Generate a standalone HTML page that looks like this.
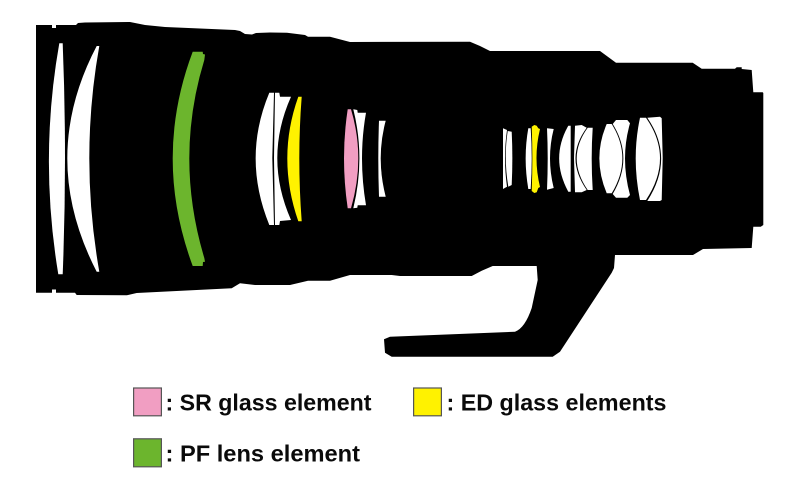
<!DOCTYPE html>
<html><head><meta charset="utf-8"><style>
html,body{margin:0;padding:0;background:#fff;width:800px;height:491px;overflow:hidden}
svg{display:block}
text{font-family:"Liberation Sans",sans-serif;font-weight:bold;font-size:23px;fill:#0a0a0a}
</style></head><body>
<svg width="800" height="491" viewBox="0 0 800 491" xmlns="http://www.w3.org/2000/svg">
<path fill="#000" d="M36,25 L52,25 L52,28 L56,28 L56,25 L76,25 L78,23 L85,22.5 L130,22 L145,25 L165,27 L235,30 L240,31 L245,34 L252,34.5 L256,33 L270,32.5 L287,32.7 L305,35 L308,36.7 L330,36.7 L350,42 L470,41.7 L480,46 L490,51 L600,51 L616,62.7 L692.7,62.7 L701.7,68.7 L735,68.7 L736.7,67.3 L741.7,67.3 L741.7,69 L751.7,70 L753.3,92.3 L762.7,92.3 L763.3,93 L763.3,225 L760.7,226.7 L753.3,226.7 L751.7,248 L703,249 L693,255 L615,255 L614,268 L611.7,272.7 L560,351.7 L552.7,356.7 L391.7,356.7 L385,352.7 L384,339.3 L390,336.7 L515,331.7 Q525,328 531.7,308 L537.7,280 L536.7,266 L492.7,266 L481.7,270.7 L471.7,276 L400,276 L391.7,275 L350,275 L330,280.7 L308,280.7 L290,285 L255,285 L240,283.3 L231.7,288.3 L136.7,293 L126.7,295.3 L76.7,295 L75,292.7 L56,292.7 L56,289.5 L52,289.5 L52,292.7 L36,292.7 Z"/>
<g fill="#fff">
<path d="M59.3,43.3 L62.7,43.3 Q67.3,158 62.7,274.3 L58.3,274.3 Q39,158 59.3,43.3Z"/>
<path d="M96.7,46 L99.3,46 Q79.3,158 99.3,271.7 L96.7,271.7 Q37.9,158 96.7,46Z"/>
<path d="M269.3,92.7 L274,92.7 L272.3,158 L274,225 L269.3,225 Q242,158 269.3,92.7Z"/>
<path d="M275,92.7 L279.3,92.7 L280,96.7 L291,96.7 Q263.6,158 291,220 L280,221 L279.3,225 L275,225 L274,158Z"/>
<path d="M353.3,109.3 L357.3,110 L357.7,112.7 L366,112.7 Q358,158 366,205.3 L357.7,205.3 L357.3,207.7 L353.3,208.3 Q365.5,158 353.3,109.3Z"/>
<path d="M379,120.7 L385.7,120.7 Q375.7,158 385.7,196.7 L379,196.7 Q377.6,158 379,120.7Z"/>
<path d="M503,128.3 L507,130 Q503,158 507,186.7 L503,189Z"/>
<path d="M507.7,131 L511.7,131.7 Q513,158 511.7,185 L508.3,186.7 Q503.5,158 507.7,131Z"/>
<path d="M528.3,128.3 L530.7,128.3 Q532.7,158 530.7,189 L528.3,189 Q523,158 528.3,128.3Z"/>
<path d="M547,128.3 L553.7,129 Q546.3,158 553.7,188 L547,189.7 Q548.4,158 547,128.3Z"/>
<path d="M568.3,125.7 L570.7,125.7 L570.7,191.7 L568.3,191.7 Q550,158 568.3,125.7Z"/>
<path d="M575,125.7 L581.7,125 L586.7,127.7 Q564.3,158 586.7,190 L581.7,192.3 L575,192.3 L574,158Z"/>
<path d="M587.7,127.7 L592.7,127.7 Q590.7,158 592.7,190 L587.7,190 Q565.7,158 587.7,127.7Z"/>
<path d="M606.7,124 L611.7,124 Q633,158 611.7,193.3 L606.7,193.3 Q592,158 606.7,124Z"/>
<path d="M612.7,124 L616,120 L627.3,120 L630,123.3 Q620,158 630,195 L627.3,197.7 L616,197.7 L612.7,194 Q634,158 612.7,124Z"/>
<path d="M640,117.7 L646,117.7 Q674,158 646,200 L640,200 Q631.4,158 640,117.7Z"/>
<path d="M647.3,117.7 L660,116.7 L661.7,118.3 L662.7,158 L661.7,200 L660,201 L647.3,201 Q675,158 647.3,117.7Z"/>
</g>
<path fill="#6cb52d" d="M192.7,51.7 L202.7,51.7 L203,54 L205,54.5 L204.3,60 Q174.3,158 204.3,258 L205,261.7 L203,262 L202.7,266 L192.7,266 Q152.7,158 192.7,51.7Z"/>
<path fill="#fff200" d="M298.3,96.7 L301.7,96.7 Q296.9,158 301.7,221.3 L298.3,221.3 Q276.3,158 298.3,96.7Z"/>
<path fill="#f19ec2" d="M347.7,109.3 L351,109.3 Q365.6,158 351,208.3 L347.7,208.3 Q340.3,158 347.7,109.3Z"/>
<path fill="#fff200" d="M531.7,126.7 L534.3,125 L536.7,125.7 L538.3,128.3 L540,129 Q533,158 540,187 L538.3,188 L536.7,192.3 L534.3,193 L531.7,191 Q533,158 531.7,126.7Z"/>
<g stroke="#555" stroke-width="1.2">
<rect x="133.6" y="388" width="27.8" height="27.8" fill="#f19ec2"/>
<rect x="413.6" y="388" width="27.8" height="27.8" fill="#fff200"/>
<rect x="133.6" y="438.8" width="27.8" height="28" fill="#6cb52d"/>
</g>
<text x="165.5" y="410.7" textLength="206" lengthAdjust="spacingAndGlyphs">: SR glass element</text>
<text x="446.5" y="410.7" textLength="220" lengthAdjust="spacingAndGlyphs">: ED glass elements</text>
<text x="165.5" y="461.7" textLength="194.5" lengthAdjust="spacingAndGlyphs">: PF lens element</text>
</svg>
</body></html>
